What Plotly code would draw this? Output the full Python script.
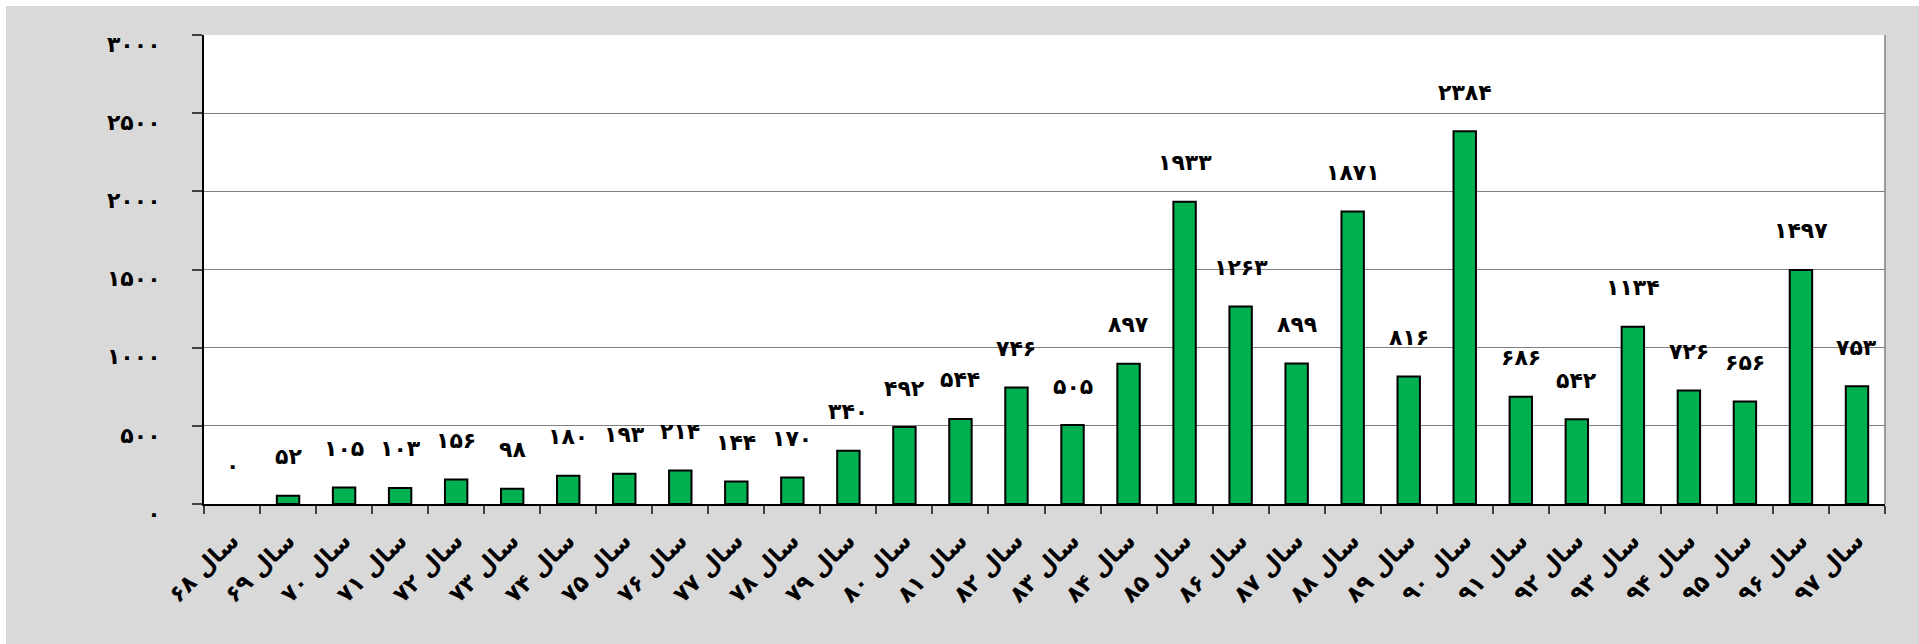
import plotly.graph_objects as go

# Years (Persian calendar) and yearly counts
years = [68, 69, 70, 71, 72, 73, 74, 75, 76, 77, 78, 79, 80, 81, 82,
         83, 84, 85, 86, 87, 88, 89, 90, 91, 92, 93, 94, 95, 96, 97]
counts = [0, 52, 105, 103, 156, 98, 180, 193, 214, 144, 170, 340, 492, 544, 746,
          505, 897, 1933, 1263, 899, 1871, 816, 2384, 686, 542, 1134, 726, 656, 1497, 753]
y_ticks = [0, 500, 1000, 1500, 2000, 2500, 3000]

FA_DIGITS = str.maketrans("0123456789", "۰۱۲۳۴۵۶۷۸۹")


def fa(n):
    return str(n).translate(FA_DIGITS)


categories = ["سال " + fa(y) for y in years]

W, H = 1919, 644
ML, MR, MT, MB = 204, 34, 35, 140
PW, PH = W - ML - MR, H - MT - MB

FONT = dict(family="DejaVu Sans", size=22, color="black", weight="bold")
XFONT = dict(family="DejaVu Sans", size=23, color="black", weight="bold")

fig = go.Figure()
fig.add_trace(go.Bar(
    x=categories,
    y=counts,
    width=0.4,
    marker=dict(color="#00B050",
                line=dict(color="black", width=[2 if v > 0 else 0 for v in counts])),
    hoverinfo="x+y",
))

# value labels above each bar
for c, v in zip(categories, counts):
    fig.add_annotation(
        x=c, y=v, text=fa(v), showarrow=False,
        xanchor="center", yanchor="middle", yshift=39,
        font=FONT,
    )

# grey chart background with a thin white edge
fig.add_shape(
    type="rect", xref="paper", yref="paper", layer="below",
    x0=-(ML - 6) / PW, x1=(W - ML + 2) / PW,
    y0=-(MB + 2) / PH, y1=(PH + MT - 6) / PH,
    fillcolor="#D9D9D9", line=dict(width=0),
)
# white plot area
fig.add_shape(
    type="rect", xref="paper", yref="paper", layer="below",
    x0=0, x1=1, y0=0, y1=1, fillcolor="white", line=dict(width=0),
)
# right border of plot area
fig.add_shape(
    type="line", xref="paper", yref="paper",
    x0=1, x1=1, y0=0, y1=1, line=dict(color="#808080", width=1.5),
)

fig.update_layout(
    width=W, height=H,
    margin=dict(l=ML, r=MR, t=MT, b=MB, pad=0),
    paper_bgcolor="white",
    plot_bgcolor="rgba(0,0,0,0)",
    showlegend=False,
    bargap=0.6,
)
fig.update_xaxes(
    type="category",
    tickangle=-45,
    tickfont=XFONT,
    ticks="outside", ticklen=8, tickcolor="#404040", tickwidth=1.5,
    tickson="boundaries",
    ticklabelstandoff=12,
    showline=True, linecolor="black", linewidth=2,
    showgrid=False,
)
fig.update_yaxes(
    range=[0, 3000],
    tickvals=y_ticks,
    ticktext=[fa(t) for t in y_ticks],
    tickfont=FONT,
    ticks="outside", ticklen=10, tickcolor="#404040", tickwidth=1.5,
    ticklabelstandoff=27,
    ticklabelshift=9,
    showline=True, linecolor="black", linewidth=2,
    showgrid=True, gridcolor="#808080", gridwidth=1,
    zeroline=False,
)

fig.write_html("out.html")
